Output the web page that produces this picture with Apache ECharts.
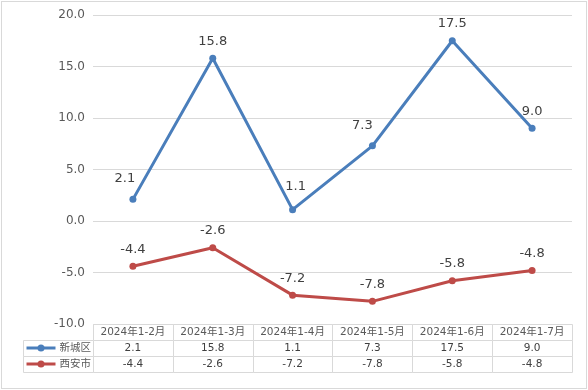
<!DOCTYPE html>
<html>
<head>
<meta charset="utf-8">
<script src="https://cdn.jsdelivr.net/npm/echarts@6/dist/echarts.min.js"></script>
<style>
  html, body { margin: 0; padding: 0; background: #fff; }
  #wrap { position: relative; width: 588px; height: 390px; }
  #c { width: 588px; height: 390px; }
  #frame { position: absolute; left: 1px; top: 1px; width: 586px; height: 388px;
           border: 1px solid #d9d9d9; box-sizing: border-box; pointer-events: none; }
</style>
</head>
<body>
<div id="wrap"><div id="c"></div><div id="frame"></div></div>
<script>
// ---- data ----
const categories = ['2024年1-2月', '2024年1-3月', '2024年1-4月', '2024年1-5月', '2024年1-6月', '2024年1-7月'];
const seriesNames = ['新城区', '西安市'];
const xinchengqu = [2.1, 15.8, 1.1, 7.3, 17.5, 9.0];
const xian = [-4.4, -2.6, -7.2, -7.8, -5.8, -4.8];
const yMin = -10, yMax = 20, yStep = 5;

// ---- styles ----
const FONT = '"DejaVu Sans", "Noto Sans CJK SC", sans-serif';
const colors = ['#4A7EBB', '#BE4B48'];
const gridColor = '#d9d9d9';
const blueLabelNudge = [[-8, -4], [0, 0], [3, -6], [-10, -3], [0, 0], [0, 0]];
const legendColW = 70;

const chart = echarts.init(document.getElementById('c'), null, { renderer: 'canvas' });

const seriesValues = [xinchengqu, xian];
const tableRows = ['header'].concat(seriesNames);

function cellText(c, r) {
  if (r === 0) return categories[c];
  return seriesValues[r - 1][c].toFixed(1);
}

const tableData = [];
for (let r = 0; r < tableRows.length; r++) {
  for (let c = 0; c < categories.length; c++) tableData.push([c, r]);
}
const legendData = seriesNames.map((n, i) => [0, i + 1]);

function px(v) { return Math.round(v) + 0.5; }

const lineSeries = seriesValues.map((vals, si) => ({
  name: seriesNames[si],
  type: 'line',
  xAxisIndex: 0, yAxisIndex: 0,
  data: vals.map((v, i) => {
    const item = { value: v };
    if (si === 0) {
      const n = blueLabelNudge[i];
      if (n[0] || n[1]) item.label = { offset: n };
    }
    return item;
  }),
  symbol: 'circle',
  symbolSize: 7,
  lineStyle: { width: 3, color: colors[si] },
  itemStyle: { color: colors[si] },
  label: {
    show: true, position: 'top', distance: 7,
    formatter: p => Number(p.value).toFixed(1),
    color: '#404040', fontSize: 13, fontFamily: FONT
  },
  z: 3 + si
}));

const option = {
  animation: false,
  backgroundColor: '#fff',
  textStyle: { fontFamily: FONT },
  grid: [
    { left: 93, right: 16, top: 15, bottom: 66 },
    { left: 93, right: 16, top: 324, height: 48 }
  ],
  xAxis: [
    { type: 'category', gridIndex: 0, data: categories, boundaryGap: true,
      axisLine: { show: false }, axisTick: { show: false }, axisLabel: { show: false } },
    { type: 'category', gridIndex: 1, data: categories, boundaryGap: true, show: false }
  ],
  yAxis: [
    { type: 'value', gridIndex: 0, min: yMin, max: yMax, interval: yStep,
      axisLine: { show: false }, axisTick: { show: false },
      axisLabel: { formatter: v => v.toFixed(1), color: '#595959', fontSize: 12, margin: 8, fontFamily: FONT },
      splitLine: { lineStyle: { color: gridColor, width: 1 } } },
    { type: 'category', gridIndex: 1, data: tableRows, inverse: true, show: false }
  ],
  series: lineSeries.concat([
    {
      type: 'custom', name: 'table', xAxisIndex: 1, yAxisIndex: 1, silent: true, clip: false,
      data: tableData,
      renderItem: function (params, api) {
        const c = api.value(0), r = api.value(1);
        const pt = api.coord([c, r]);
        const sz = api.size([1, 1]);
        const x0 = px(pt[0] - sz[0] / 2), y0 = px(pt[1] - sz[1] / 2);
        const x1 = px(pt[0] + sz[0] / 2), y1 = px(pt[1] + sz[1] / 2);
        return {
          type: 'group',
          children: [
            { type: 'rect', shape: { x: x0, y: y0, width: x1 - x0, height: y1 - y0 },
              style: { fill: '#fff', stroke: gridColor, lineWidth: 1 } },
            { type: 'text', x: pt[0], y: pt[1] + 0.5,
              style: { text: cellText(c, r), align: 'center', verticalAlign: 'middle',
                       fill: r === 0 ? '#595959' : '#404040', fontSize: 10.5, fontFamily: FONT } }
          ]
        };
      }
    },
    {
      type: 'custom', name: 'tableLegend', xAxisIndex: 1, yAxisIndex: 1, silent: true, clip: false,
      data: legendData,
      renderItem: function (params, api) {
        const c = api.value(0), r = api.value(1);
        const pt = api.coord([c, r]);
        const sz = api.size([1, 1]);
        const right = px(pt[0] - sz[0] / 2);
        const left = right - legendColW;
        const y0 = px(pt[1] - sz[1] / 2), y1 = px(pt[1] + sz[1] / 2);
        const col = colors[r - 1];
        const cy = pt[1];
        return {
          type: 'group',
          children: [
            { type: 'rect', shape: { x: left, y: y0, width: right - left, height: y1 - y0 },
              style: { fill: '#fff', stroke: gridColor, lineWidth: 1 } },
            { type: 'line', shape: { x1: left + 3, y1: cy, x2: left + 32, y2: cy },
              style: { stroke: col, lineWidth: 3 } },
            { type: 'circle', shape: { cx: left + 17.5, cy: cy, r: 3.5 },
              style: { fill: col } },
            { type: 'text', x: left + 36, y: cy + 0.5,
              style: { text: seriesNames[r - 1], align: 'left', verticalAlign: 'middle',
                       fill: '#595959', fontSize: 10.5, fontFamily: FONT } }
          ]
        };
      }
    }
  ])
};

chart.setOption(option);
</script>
</body>
</html>
